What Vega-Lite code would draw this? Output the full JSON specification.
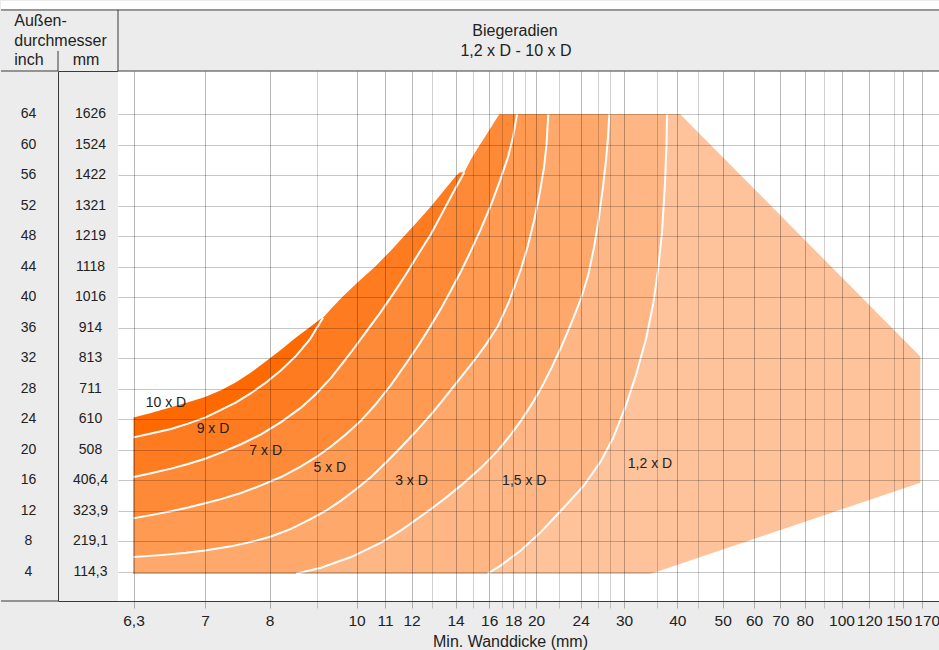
{
  "$schema": "https://vega.github.io/schema/vega-lite/v6.json",
  "background": "#ececec",
  "padding": 0,
  "spacing": 0,
  "bounds": "flush",
  "config": {"view": {"stroke": null}, "font": "Liberation Sans", "text": {"font": "Liberation Sans", "color": "#222222"}},
  "datasets": {
    "table": [
      {"inch": 64, "mm": "1626"}, {"inch": 60, "mm": "1524"}, {"inch": 56, "mm": "1422"}, {"inch": 52, "mm": "1321"},
      {"inch": 48, "mm": "1219"}, {"inch": 44, "mm": "1118"}, {"inch": 40, "mm": "1016"}, {"inch": 36, "mm": "914"},
      {"inch": 32, "mm": "813"}, {"inch": 28, "mm": "711"}, {"inch": 24, "mm": "610"}, {"inch": 20, "mm": "508"},
      {"inch": 16, "mm": "406,4"}, {"inch": 12, "mm": "323,9"}, {"inch": 8, "mm": "219,1"}, {"inch": 4, "mm": "114,3"}
    ],
    "labels": [
      {"label": "10 x D", "wall": 6.618, "od": 26.1},
      {"label": "9 x D", "wall": 7.124, "od": 22.66},
      {"label": "7 x D", "wall": 7.941, "od": 19.8},
      {"label": "5 x D", "wall": 9.324, "od": 17.6},
      {"label": "3 x D", "wall": 12.0, "od": 15.9},
      {"label": "1,5 x D", "wall": 18.917, "od": 15.9},
      {"label": "1,2 x D", "wall": 33.905, "od": 18.07}
    ],
    "mask": [
      {"wall": 33.0, "od": 3.4}, {"wall": 34.055, "od": 3.71}, {"wall": 168.53, "od": 15.65}, {"wall": 168.53, "od": 32.2},
      {"wall": 40.714, "od": 64.0}, {"wall": 39.8, "od": 64.5}
    ],
    "bands": [
      {"band": "10 x D", "wall": 6.3, "od": 3.71}, {"band": "10 x D", "wall": 6.3, "od": 24.2}, {"band": "10 x D", "wall": 6.471, "od": 24.8},
      {"band": "10 x D", "wall": 6.667, "od": 25.55}, {"band": "10 x D", "wall": 6.834, "od": 26.2}, {"band": "10 x D", "wall": 7.0, "od": 26.9},
      {"band": "10 x D", "wall": 7.248, "od": 27.8}, {"band": "10 x D", "wall": 7.481, "od": 28.85}, {"band": "10 x D", "wall": 7.713, "od": 30.1},
      {"band": "10 x D", "wall": 7.961, "od": 31.7}, {"band": "10 x D", "wall": 8.242, "od": 33.1}, {"band": "10 x D", "wall": 8.537, "od": 34.6},
      {"band": "10 x D", "wall": 8.832, "od": 36.0}, {"band": "10 x D", "wall": 9.127, "od": 37.3},

      {"band": "9 x D", "wall": 6.3, "od": 3.71}, {"band": "9 x D", "wall": 6.3, "od": 21.6}, {"band": "9 x D", "wall": 6.471, "od": 22.1},
      {"band": "9 x D", "wall": 6.667, "od": 22.7}, {"band": "9 x D", "wall": 6.834, "od": 23.4}, {"band": "9 x D", "wall": 7.0, "od": 24.2},
      {"band": "9 x D", "wall": 7.248, "od": 25.2}, {"band": "9 x D", "wall": 7.481, "od": 26.2}, {"band": "9 x D", "wall": 7.713, "od": 27.4},
      {"band": "9 x D", "wall": 7.946, "od": 28.8}, {"band": "9 x D", "wall": 8.242, "od": 30.4}, {"band": "9 x D", "wall": 8.558, "od": 32.3},
      {"band": "9 x D", "wall": 8.853, "od": 34.5}, {"band": "9 x D", "wall": 9.152, "od": 37.3}, {"band": "9 x D", "wall": 9.38, "od": 38.6},
      {"band": "9 x D", "wall": 9.633, "od": 40.0}, {"band": "9 x D", "wall": 10.053, "od": 42.0}, {"band": "9 x D", "wall": 10.649, "od": 44.0},
      {"band": "9 x D", "wall": 11.189, "od": 46.0}, {"band": "9 x D", "wall": 11.717, "od": 48.0}, {"band": "9 x D", "wall": 12.313, "od": 50.0},
      {"band": "9 x D", "wall": 12.962, "od": 52.0}, {"band": "9 x D", "wall": 13.504, "od": 54.0}, {"band": "9 x D", "wall": 14.056, "od": 56.0},
      {"band": "9 x D", "wall": 14.253, "od": 56.4},

      {"band": "7 x D", "wall": 6.3, "od": 3.71}, {"band": "7 x D", "wall": 6.3, "od": 16.4}, {"band": "7 x D", "wall": 6.471, "od": 16.9},
      {"band": "7 x D", "wall": 6.667, "od": 17.5}, {"band": "7 x D", "wall": 6.834, "od": 18.1}, {"band": "7 x D", "wall": 7.0, "od": 18.8},
      {"band": "7 x D", "wall": 7.248, "od": 19.6}, {"band": "7 x D", "wall": 7.558, "od": 20.7}, {"band": "7 x D", "wall": 7.868, "od": 22.0},
      {"band": "7 x D", "wall": 8.242, "od": 23.6}, {"band": "7 x D", "wall": 8.663, "od": 25.5}, {"band": "7 x D", "wall": 8.979, "od": 27.3},
      {"band": "7 x D", "wall": 9.354, "od": 29.4}, {"band": "7 x D", "wall": 9.658, "od": 31.4}, {"band": "7 x D", "wall": 9.937, "od": 33.3},
      {"band": "7 x D", "wall": 10.368, "od": 35.6}, {"band": "7 x D", "wall": 10.86, "od": 38.1}, {"band": "7 x D", "wall": 11.34, "od": 40.6},
      {"band": "7 x D", "wall": 11.793, "od": 43.0}, {"band": "7 x D", "wall": 12.361, "od": 45.8}, {"band": "7 x D", "wall": 12.938, "od": 48.3},
      {"band": "7 x D", "wall": 13.418, "od": 51.0}, {"band": "7 x D", "wall": 13.892, "od": 53.7}, {"band": "7 x D", "wall": 14.494, "od": 56.4},
      {"band": "7 x D", "wall": 14.871, "od": 58.1}, {"band": "7 x D", "wall": 15.264, "od": 59.5}, {"band": "7 x D", "wall": 15.692, "od": 60.9},
      {"band": "7 x D", "wall": 16.187, "od": 62.4}, {"band": "7 x D", "wall": 16.821, "od": 64.0},

      {"band": "5 x D", "wall": 6.3, "od": 3.71}, {"band": "5 x D", "wall": 6.3, "od": 11.0}, {"band": "5 x D", "wall": 6.471, "od": 11.4},
      {"band": "5 x D", "wall": 6.667, "od": 11.9}, {"band": "5 x D", "wall": 6.834, "od": 12.4}, {"band": "5 x D", "wall": 7.0, "od": 12.95},
      {"band": "5 x D", "wall": 7.248, "od": 13.5}, {"band": "5 x D", "wall": 7.558, "od": 14.3}, {"band": "5 x D", "wall": 7.868, "od": 15.3},
      {"band": "5 x D", "wall": 8.242, "od": 16.4}, {"band": "5 x D", "wall": 8.663, "od": 17.8}, {"band": "5 x D", "wall": 8.979, "od": 19.0},
      {"band": "5 x D", "wall": 9.354, "od": 20.4}, {"band": "5 x D", "wall": 9.734, "od": 22.0}, {"band": "5 x D", "wall": 10.158, "od": 23.8},
      {"band": "5 x D", "wall": 10.684, "od": 26.0}, {"band": "5 x D", "wall": 11.226, "od": 28.5}, {"band": "5 x D", "wall": 11.755, "od": 31.1},
      {"band": "5 x D", "wall": 12.313, "od": 33.6}, {"band": "5 x D", "wall": 12.938, "od": 36.3}, {"band": "5 x D", "wall": 13.375, "od": 38.5},
      {"band": "5 x D", "wall": 13.806, "od": 40.9}, {"band": "5 x D", "wall": 14.309, "od": 43.4}, {"band": "5 x D", "wall": 14.871, "od": 46.1},
      {"band": "5 x D", "wall": 15.484, "od": 49.0}, {"band": "5 x D", "wall": 16.146, "od": 52.1}, {"band": "5 x D", "wall": 16.878, "od": 55.3},
      {"band": "5 x D", "wall": 17.556, "od": 58.4}, {"band": "5 x D", "wall": 17.983, "od": 61.0}, {"band": "5 x D", "wall": 18.314, "od": 64.0},

      {"band": "3 x D", "wall": 6.3, "od": 3.71}, {"band": "3 x D", "wall": 6.3, "od": 5.9}, {"band": "3 x D", "wall": 6.569, "od": 6.15},
      {"band": "3 x D", "wall": 6.814, "od": 6.45}, {"band": "3 x D", "wall": 7.0, "od": 6.75}, {"band": "3 x D", "wall": 7.403, "od": 7.3},
      {"band": "3 x D", "wall": 7.791, "od": 8.05}, {"band": "3 x D", "wall": 8.032, "od": 8.6}, {"band": "3 x D", "wall": 8.453, "od": 9.6},
      {"band": "3 x D", "wall": 8.874, "od": 10.9}, {"band": "3 x D", "wall": 9.228, "od": 12.0}, {"band": "3 x D", "wall": 9.608, "od": 13.3},
      {"band": "3 x D", "wall": 9.987, "od": 14.8}, {"band": "3 x D", "wall": 10.509, "od": 16.4}, {"band": "3 x D", "wall": 11.038, "od": 18.3},
      {"band": "3 x D", "wall": 11.604, "od": 20.3}, {"band": "3 x D", "wall": 12.216, "od": 22.4}, {"band": "3 x D", "wall": 12.938, "od": 24.6},
      {"band": "3 x D", "wall": 13.59, "od": 27.0}, {"band": "3 x D", "wall": 14.309, "od": 29.5}, {"band": "3 x D", "wall": 15.17, "od": 32.0},
      {"band": "3 x D", "wall": 15.799, "od": 33.8}, {"band": "3 x D", "wall": 16.715, "od": 36.2}, {"band": "3 x D", "wall": 17.641, "od": 39.4},
      {"band": "3 x D", "wall": 18.644, "od": 43.7}, {"band": "3 x D", "wall": 19.252, "od": 46.8}, {"band": "3 x D", "wall": 19.842, "od": 50.2},
      {"band": "3 x D", "wall": 20.311, "od": 53.5}, {"band": "3 x D", "wall": 20.711, "od": 57.0}, {"band": "3 x D", "wall": 20.933, "od": 60.0},
      {"band": "3 x D", "wall": 21.093, "od": 64.0},

      {"band": "1,5 x D", "wall": 8.558, "od": 3.71}, {"band": "1,5 x D", "wall": 9.101, "od": 4.5}, {"band": "1,5 x D", "wall": 9.861, "od": 5.9},
      {"band": "1,5 x D", "wall": 10.86, "od": 7.8}, {"band": "1,5 x D", "wall": 11.604, "od": 9.4}, {"band": "1,5 x D", "wall": 12.216, "od": 10.8},
      {"band": "1,5 x D", "wall": 12.938, "od": 12.2}, {"band": "1,5 x D", "wall": 13.59, "od": 13.7}, {"band": "1,5 x D", "wall": 14.309, "od": 15.3},
      {"band": "1,5 x D", "wall": 15.484, "od": 17.6}, {"band": "1,5 x D", "wall": 16.715, "od": 19.9}, {"band": "1,5 x D", "wall": 17.812, "od": 22.0},
      {"band": "1,5 x D", "wall": 18.644, "od": 23.8}, {"band": "1,5 x D", "wall": 19.533, "od": 25.8}, {"band": "1,5 x D", "wall": 20.444, "od": 28.0},
      {"band": "1,5 x D", "wall": 21.333, "od": 30.6}, {"band": "1,5 x D", "wall": 22.225, "od": 33.4}, {"band": "1,5 x D", "wall": 23.126, "od": 36.5},
      {"band": "1,5 x D", "wall": 24.035, "od": 39.8}, {"band": "1,5 x D", "wall": 24.859, "od": 42.8}, {"band": "1,5 x D", "wall": 25.564, "od": 46.5},
      {"band": "1,5 x D", "wall": 26.215, "od": 50.5}, {"band": "1,5 x D", "wall": 26.876, "od": 54.5}, {"band": "1,5 x D", "wall": 27.372, "od": 58.0},
      {"band": "1,5 x D", "wall": 27.703, "od": 61.0}, {"band": "1,5 x D", "wall": 27.918, "od": 64.0},

      {"band": "1,2 x D", "wall": 15.906, "od": 3.71}, {"band": "1,2 x D", "wall": 16.959, "od": 4.8}, {"band": "1,2 x D", "wall": 18.644, "od": 6.8},
      {"band": "1,2 x D", "wall": 20.444, "od": 9.2}, {"band": "1,2 x D", "wall": 22.225, "od": 12.0}, {"band": "1,2 x D", "wall": 24.388, "od": 15.3},
      {"band": "1,2 x D", "wall": 26.545, "od": 18.5}, {"band": "1,2 x D", "wall": 28.451, "od": 21.5}, {"band": "1,2 x D", "wall": 30.3, "od": 25.8},
      {"band": "1,2 x D", "wall": 31.802, "od": 29.8}, {"band": "1,2 x D", "wall": 33.304, "od": 34.5}, {"band": "1,2 x D", "wall": 34.356, "od": 39.0},
      {"band": "1,2 x D", "wall": 35.175, "od": 43.5}, {"band": "1,2 x D", "wall": 36.175, "od": 48.5}, {"band": "1,2 x D", "wall": 36.925, "od": 55.0},
      {"band": "1,2 x D", "wall": 37.3, "od": 60.0}, {"band": "1,2 x D", "wall": 37.425, "od": 64.0}
    ]
  },
  "hconcat": [
    {
      "width": 57,
      "height": 530,
      "layer": [
        {"data": {"values": [{}]}, "mark": {"type": "rect", "color": "white"},
         "encoding": {"x": {"value": 0}, "x2": {"value": "width"},
                      "y": {"datum": 77.69, "scale": {"domain": [0.13, 69.68], "nice": false, "zero": false}, "axis": null},
                      "y2": {"datum": 78.87}}},
        {"data": {"values": [{}]}, "mark": {"type": "rule", "color": "#3a3a3a"},
         "encoding": {"y": {"datum": 77.69, "scale": {"domain": [0.13, 69.68], "nice": false, "zero": false}, "axis": null}}},
        {"data": {"values": [{}]}, "mark": {"type": "rule", "color": "#3a3a3a"},
         "encoding": {"y": {"datum": 69.68, "scale": {"domain": [0.13, 69.68], "nice": false, "zero": false}, "axis": null}}},
        {"data": {"values": [{}]}, "mark": {"type": "rule", "color": "#3a3a3a"},
         "encoding": {"y": {"datum": 0.13, "scale": {"domain": [0.13, 69.68], "nice": false, "zero": false}, "axis": null}}},
        {"data": {"values": [{}]}, "mark": {"type": "text", "text": "Außen-", "align": "left", "baseline": "alphabetic", "dx": -15.2, "fontSize": 16},
         "encoding": {"y": {"datum": 75.59, "scale": {"domain": [0.13, 69.68], "nice": false, "zero": false}, "axis": null}}},
        {"data": {"values": [{}]}, "mark": {"type": "text", "text": "durchmesser", "align": "left", "baseline": "alphabetic", "dx": -15.2, "fontSize": 16},
         "encoding": {"y": {"datum": 72.9, "scale": {"domain": [0.13, 69.68], "nice": false, "zero": false}, "axis": null}}},
        {"data": {"values": [{}]}, "mark": {"type": "text", "text": "inch", "align": "left", "baseline": "alphabetic", "dx": -15.2, "fontSize": 16},
         "encoding": {"y": {"datum": 70.43, "scale": {"domain": [0.13, 69.68], "nice": false, "zero": false}, "axis": null}}},
        {"data": {"name": "table"}, "mark": {"type": "text", "fontSize": 14, "baseline": "middle", "dx": -1},
         "encoding": {"y": {"field": "inch", "type": "quantitative", "scale": {"domain": [0.13, 69.68], "nice": false, "zero": false}, "axis": null},
                      "text": {"field": "inch", "type": "nominal"}}}
      ]
    },
    {
      "width": 60,
      "height": 530,
      "view": {"stroke": "#3a3a3a", "strokeWidth": 1},
      "layer": [
        {"data": {"values": [{}]}, "mark": {"type": "rect", "color": "white"},
         "encoding": {"x": {"value": 0}, "x2": {"value": "width"},
                      "y": {"datum": 77.69, "scale": {"domain": [0.13, 69.68], "nice": false, "zero": false}, "axis": null},
                      "y2": {"datum": 78.87}}},
        {"data": {"values": [{}]}, "mark": {"type": "rule", "color": "#3a3a3a"},
         "encoding": {"y": {"datum": 77.69, "scale": {"domain": [0.13, 69.68], "nice": false, "zero": false}, "axis": null}}},
        {"data": {"values": [{}]}, "mark": {"type": "rule", "color": "#3a3a3a"},
         "encoding": {"x": {"value": 0},
                      "y": {"datum": 72.31, "scale": {"domain": [0.13, 69.68], "nice": false, "zero": false}, "axis": null},
                      "y2": {"datum": 69.68}}},
        {"data": {"values": [{}]}, "mark": {"type": "rule", "color": "#3a3a3a"},
         "encoding": {"x": {"value": "width"},
                      "y": {"datum": 77.69, "scale": {"domain": [0.13, 69.68], "nice": false, "zero": false}, "axis": null},
                      "y2": {"datum": 69.68}}},
        {"data": {"values": [{}]}, "mark": {"type": "text", "text": "mm", "baseline": "alphabetic", "dx": -2, "fontSize": 16},
         "encoding": {"y": {"datum": 70.43, "scale": {"domain": [0.13, 69.68], "nice": false, "zero": false}, "axis": null}}},
        {"data": {"name": "table"}, "mark": {"type": "text", "fontSize": 14, "baseline": "middle", "dx": 2.5},
         "encoding": {"y": {"field": "inch", "type": "quantitative", "scale": {"domain": [0.13, 69.68], "nice": false, "zero": false}, "axis": null},
                      "text": {"field": "mm", "type": "nominal"}}}
      ]
    },
    {
      "width": 822,
      "height": 530,
      "view": {"fill": "white", "stroke": null},
      "layer": [
        {
          "data": {"name": "bands"},
          "mark": {"type": "area", "orient": "horizontal", "interpolate": "linear"},
          "encoding": {
            "y": {"field": "od", "type": "quantitative",
                  "scale": {"domain": [0.13, 69.68], "nice": false, "zero": false},
                  "axis": {"values": [4, 8, 12, 16, 20, 24, 28, 32, 36, 40, 44, 48, 52, 56, 60, 64], "tickCount": 100, "grid": true, "gridColor": "#000000", "gridOpacity": 0.22,
                           "labels": false, "ticks": false, "domain": false, "title": null, "zindex": 1}},
            "x": {"field": "wall", "type": "quantitative", "stack": null,
                  "scale": {"type": "linear", "nice": false, "zero": false,
                            "domain": [6.148, 6.3, 7, 8, 9, 10, 11, 12, 13, 14, 15, 16, 17, 18, 19, 20, 22, 24, 26, 28, 30, 35, 40, 45, 50, 60, 70, 80, 90, 100, 120, 140, 150, 170, 189.3],
                            "range": [0, 15.5, 87, 151.5, 199, 238.5, 267, 293.5, 314.3, 337.5, 355.3, 371.2, 383.5, 395.2, 407.3, 418, 440.5, 462.7, 479.7, 491.8, 506, 539.3, 559.3, 580.3, 604.7, 636, 662.3, 686.7, 705.5, 723.5, 751.3, 776, 784.7, 803.7, 822]},
                  "axis": {
                    "values": [6.3, 7, 8, 9, 10, 11, 12, 13, 14, 15, 16, 17, 18, 19, 20, 22, 24, 26, 28, 30, 35, 40, 45, 50, 60, 70, 80, 90, 100, 120, 140, 150, 170],
                    "tickCount": 100,
                    "labelExpr": "datum.value == 6.3 ? '6,3' : (indexof([9, 13, 15, 17, 19, 22, 26, 28, 35, 45, 90, 140], datum.value) >= 0 ? '' : toString(datum.value))",
                    "labelOverlap": false, "labelFlush": false, "labelBound": false,
                    "labelFont": "Liberation Sans", "labelFontSize": 15.5, "labelColor": "#222222", "labelPadding": 5,
                    "labelOffset": {"condition": [{"test": "datum.value == 170", "value": 5}, {"test": "datum.value == 150", "value": -4}], "value": 0},
                    "ticks": true, "tickSize": 7, "tickColor": "#000000",
                    "tickOpacity": {"condition": {"test": "indexof([9, 13, 15, 17, 19, 22, 26, 28, 35, 45, 90, 140], datum.value) >= 0", "value": 0.18}, "value": 0.27},
                    "grid": true, "gridColor": "#000000",
                    "gridOpacity": {"condition": {"test": "indexof([9, 13, 15, 17, 19, 22, 26, 28, 35, 45, 90, 140], datum.value) >= 0", "value": 0.18}, "value": 0.27},
                    "domain": true, "domainColor": "#3a3a3a",
                    "title": "Min. Wanddicke (mm)", "titleFont": "Liberation Sans", "titleFontSize": 16, "titleFontWeight": "normal",
                    "titleColor": "#222222", "titlePadding": 5, "titleX": 392,
                    "zindex": 1
                  }},
            "x2": {"datum": 189.3},
            "color": {"field": "band", "type": "nominal", "legend": null,
                      "scale": {"domain": ["10 x D", "9 x D", "7 x D", "5 x D", "3 x D", "1,5 x D", "1,2 x D"],
                                "range": ["#ff6a00", "#ff7b1f", "#fe8a38", "#fe9a52", "#fea86b", "#feb684", "#fec39b"]}}
          }
        },
        {
          "data": {"name": "mask"},
          "mark": {"type": "area", "orient": "horizontal", "color": "white", "interpolate": "linear"},
          "encoding": {
            "y": {"field": "od", "type": "quantitative", "scale": {"domain": [0.13, 69.68], "nice": false, "zero": false}},
            "x": {"field": "wall", "type": "quantitative", "stack": null},
            "x2": {"datum": 189.3}
          }
        },
        {
          "data": {"name": "bands"},
          "transform": [{"filter": "datum.band != '10 x D' && !(datum.od < 3.8 && datum.wall < 6.31) && !(datum.band == '9 x D' && datum.od > 37.35) && !(datum.band == '7 x D' && datum.od > 56.45)"}],
          "mark": {"type": "line", "color": "white", "strokeWidth": 2, "interpolate": "linear"},
          "encoding": {
            "y": {"field": "od", "type": "quantitative", "scale": {"domain": [0.13, 69.68], "nice": false, "zero": false}},
            "x": {"field": "wall", "type": "quantitative"},
            "detail": {"field": "band", "type": "nominal"}
          }
        },
        {
          "data": {"name": "labels"},
          "mark": {"type": "text", "fontSize": 14, "baseline": "middle", "align": "center", "color": "#222222"},
          "encoding": {
            "y": {"field": "od", "type": "quantitative", "scale": {"domain": [0.13, 69.68], "nice": false, "zero": false}},
            "x": {"field": "wall", "type": "quantitative"},
            "text": {"field": "label", "type": "nominal"}
          }
        },
        {"data": {"values": [{}]}, "mark": {"type": "rect", "color": "white"},
         "encoding": {"x": {"value": 0}, "x2": {"value": "width"},
                      "y": {"datum": 77.69, "scale": {"domain": [0.13, 69.68], "nice": false, "zero": false}},
                      "y2": {"datum": 78.87}}},
        {"data": {"values": [{}]}, "mark": {"type": "rule", "color": "#3a3a3a"},
         "encoding": {"y": {"datum": 77.69, "scale": {"domain": [0.13, 69.68], "nice": false, "zero": false}}}},
        {"data": {"values": [{}]}, "mark": {"type": "rule", "color": "#3a3a3a"},
         "encoding": {"y": {"datum": 69.68, "scale": {"domain": [0.13, 69.68], "nice": false, "zero": false}}}},
        {"data": {"values": [{}]}, "mark": {"type": "text", "text": "Biegeradien", "baseline": "alphabetic", "dx": -14, "fontSize": 16},
         "encoding": {"y": {"datum": 74.28, "scale": {"domain": [0.13, 69.68], "nice": false, "zero": false}}}},
        {"data": {"values": [{}]}, "mark": {"type": "text", "text": "1,2 x D - 10 x D", "baseline": "alphabetic", "dx": -13, "fontSize": 16},
         "encoding": {"y": {"datum": 71.59, "scale": {"domain": [0.13, 69.68], "nice": false, "zero": false}}}}
      ]
    }
  ]
}
